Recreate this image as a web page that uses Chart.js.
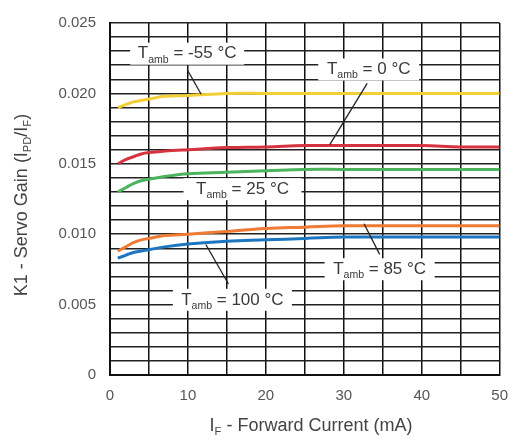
<!DOCTYPE html>
<html>
<head>
<meta charset="utf-8">
<script src="https://cdn.jsdelivr.net/npm/chart.js@4/dist/chart.umd.min.js"></script>
<style>
  html, body { margin: 0; padding: 0; background: #fff; }
  #wrap { width: 520px; height: 440px; }
</style>
</head>
<body>
<div id="wrap"><canvas id="myChart" width="520" height="440"></canvas></div>
<script>
// forward current, mA
const currents = [1, 2, 3, 4, 5, 7, 10, 15, 20, 25, 30, 35, 40, 45, 50];
// servo gain K1 per ambient temperature
const gainM55 = [0.0190, 0.0192, 0.0194, 0.0195, 0.0196, 0.0198, 0.01985, 0.0200, 0.0200, 0.0200, 0.0200, 0.0200, 0.0200, 0.0200, 0.0200];
const gain0   = [0.0150, 0.0153, 0.0155, 0.0157, 0.0158, 0.0159, 0.0160, 0.01615, 0.0162, 0.0163, 0.0163, 0.0163, 0.0163, 0.0162, 0.0162];
const gain25  = [0.0130, 0.0133, 0.0136, 0.0138, 0.0139, 0.0141, 0.0143, 0.0144, 0.0145, 0.0146, 0.0146, 0.0146, 0.0146, 0.0146, 0.0146];
const gain85  = [0.0088, 0.0091, 0.0094, 0.0096, 0.0097, 0.0099, 0.0100, 0.0102, 0.0104, 0.0105, 0.0106, 0.0106, 0.0106, 0.0106, 0.0106];
const gain100 = [0.0083, 0.0085, 0.0087, 0.0088, 0.0089, 0.0091, 0.0093, 0.0095, 0.0096, 0.0097, 0.0098, 0.0098, 0.0098, 0.0098, 0.0098];
const seriesNames = ["-55 °C", "0 °C", "25 °C", "85 °C", "100 °C"];
const xTicks = [0, 10, 20, 30, 40, 50];
const yTicks = ["0", "0.005", "0.010", "0.015", "0.020", "0.025"];

const colors = ["#f2cf34", "#d5333f", "#4db45e", "#ee7a35", "#1d77c0"];
const allGains = [gainM55, gain0, gain25, gain85, gain100];
const FONT = "'Liberation Sans', Arial, sans-serif";

function pts(arr) {
    return currents.map((c, i) => ({ x: c, y: arr[i] }));
}

// draw text with subscripts, parts = [[text, isSub], ...]
function drawRich(ctx, parts, x, y, size) {
    let w = 0;
    parts.forEach(p => {
        ctx.font = (p[1] ? size * 0.62 : size) + "px " + FONT;
        w += ctx.measureText(p[0]).width;
    });
    let cx = x - w / 2;
    ctx.textAlign = "left";
    ctx.textBaseline = "middle";
    parts.forEach(p => {
        ctx.font = (p[1] ? size * 0.62 : size) + "px " + FONT;
        ctx.fillText(p[0], cx, p[1] ? y + size * 0.35 : y);
        cx += ctx.measureText(p[0]).width;
    });
    return w;
}

// labels for the curves: text center + leader line in data units
const notes = [
    { t: "-55 °C", x: 9.9, y: 0.02282, w: 114, line: [9.9, 0.0217, 11.7, 0.01994] },
    { t: "0 °C", x: 33.2, y: 0.0217, w: 101, line: [33.0, 0.02071, 28.2, 0.01636] },
    { t: "25 °C", x: 17.0, y: 0.0132, w: 118, line: null },
    { t: "85 °C", x: 34.6, y: 0.00751, w: 110, line: [32.6, 0.01074, 34.6, 0.00857] },
    { t: "100 °C", x: 15.7, y: 0.00534, w: 119, line: [12.3, 0.00927, 15.2, 0.00646] }
];

const notesPlugin = {
    id: "notes",
    afterDatasetsDraw(chart) {
        const ctx = chart.ctx;
        const xs = chart.scales.x, ys = chart.scales.y;
        ctx.save();
        notes.forEach(n => {
            const px = xs.getPixelForValue(n.x), py = ys.getPixelForValue(n.y);
            if (n.line) {
                ctx.strokeStyle = "#222";
                ctx.lineWidth = 1.3;
                ctx.beginPath();
                ctx.moveTo(xs.getPixelForValue(n.line[0]), ys.getPixelForValue(n.line[1]));
                ctx.lineTo(xs.getPixelForValue(n.line[2]), ys.getPixelForValue(n.line[3]));
                ctx.stroke();
            }
            ctx.fillStyle = "#fff";
            ctx.fillRect(px - n.w / 2, py - 11, n.w, 22);
            ctx.fillStyle = "#3a3a3a";
            drawRich(ctx, [["T", false], ["amb", true], [" = " + n.t, false]], px, py, 17);
        });
        ctx.restore();
    },
    afterDraw(chart) {
        const ctx = chart.ctx;
        ctx.save();
        ctx.fillStyle = "#444";
        drawRich(ctx, [["I", false], ["F", true], [" - Forward Current (mA)", false]], 311, 426, 18);
        ctx.translate(22, 205);
        ctx.rotate(-Math.PI / 2);
        drawRich(ctx, [["K1 - Servo Gain (I", false], ["PD", true], ["/I", false], ["F", true], [")", false]], 0, 0, 18);
        ctx.restore();
    }
};

let ctx = document.getElementById("myChart").getContext("2d");
let chart = new Chart(ctx, {
    type: "line",
    data: {
        datasets: seriesNames.map((name, i) => ({
            label: name,
            data: pts(allGains[i]),
            borderColor: colors[i],
            borderWidth: 3,
            pointRadius: 0,
            fill: false,
            tension: 0.4
        }))
    },
    options: {
        responsive: false,
        animation: false,
        layout: { padding: { top: 17, right: 15, left: 0, bottom: 0 } },
        plugins: {
            legend: false,
            tooltip: { enabled: false }
        },
        scales: {
            x: {
                type: "linear",
                min: 0,
                max: 50,
                afterFit: s => { s.height = 65; },
                border: { color: "#111", width: 2 },
                grid: { color: "#111", lineWidth: 1.5, drawTicks: false },
                ticks: {
                    stepSize: 5,
                    padding: 12,
                    color: "#555",
                    font: { size: 15, family: FONT },
                    callback: v => xTicks.includes(v) ? String(v) : ""
                }
            },
            y: {
                type: "linear",
                min: 0,
                max: 0.025,
                afterFit: s => { s.width = 110; },
                border: { color: "#111", width: 2 },
                grid: { color: "#222", lineWidth: 1.5, drawTicks: false },
                ticks: {
                    stepSize: 0.001,
                    autoSkip: false,
                    padding: 14,
                    color: "#555",
                    font: { size: 15, family: FONT },
                    callback: v => {
                        const k = Math.round(v * 1000);
                        return k % 5 === 0 ? yTicks[k / 5] : "";
                    }
                }
            }
        }
    },
    plugins: [notesPlugin]
});
</script>
</body>
</html>
